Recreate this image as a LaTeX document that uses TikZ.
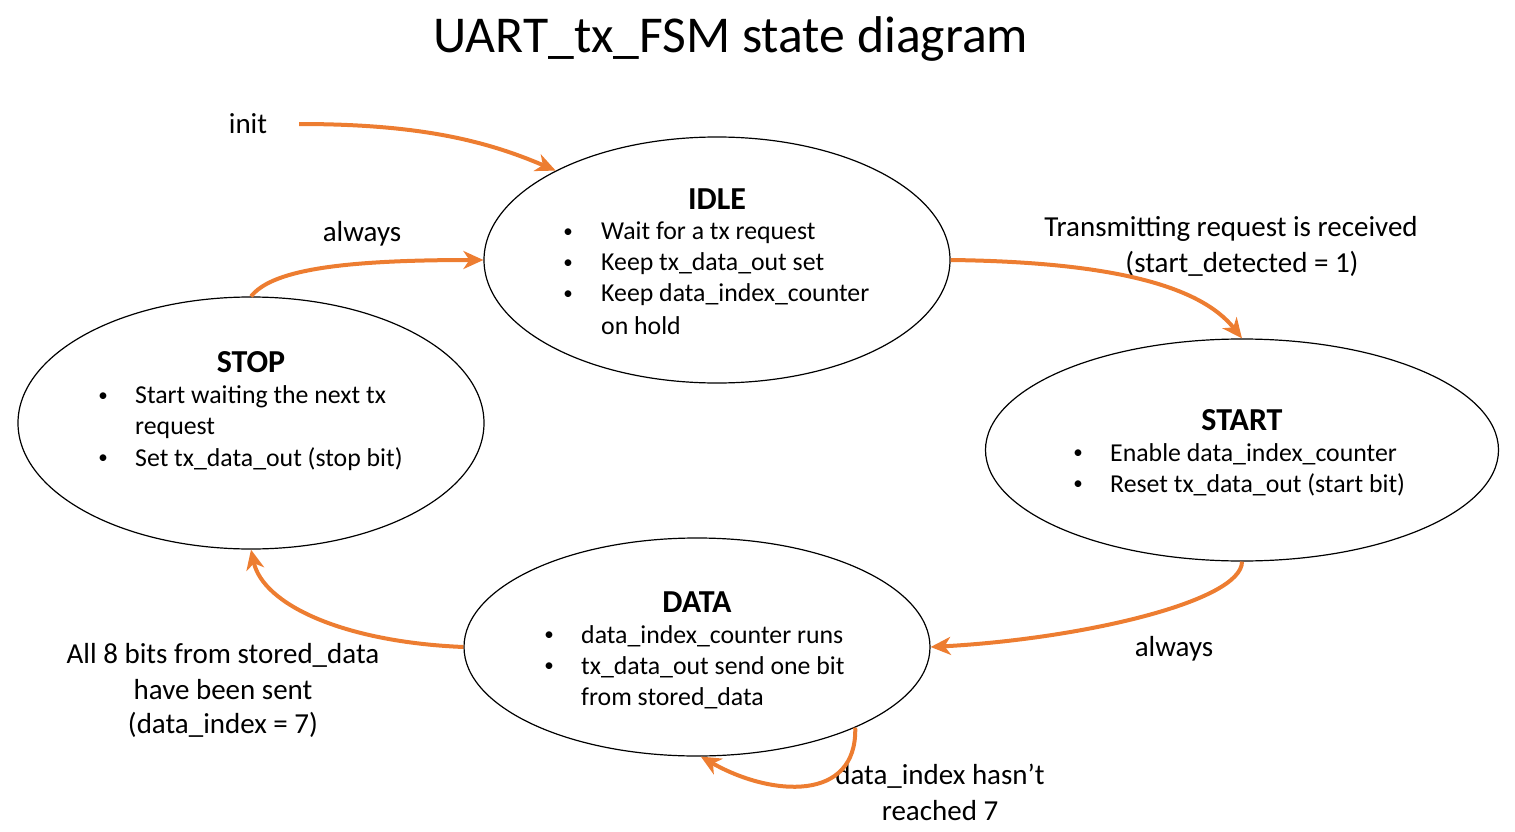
\documentclass[tikz,border=0pt]{standalone}
\usepackage{fontspec}
\setmainfont{Carlito}
\usetikzlibrary{shapes.geometric,arrows.meta}
\definecolor{arrorange}{HTML}{ED7D31}
\tikzset{
  state/.style={ellipse, draw=black, line width=1.2pt, inner sep=0pt},
  body/.style={anchor=west, inner sep=0pt, font=\fontsize{25.8}{31}\selectfont},
  lbl/.style={inner sep=0pt, font=\fontsize{29}{33}\selectfont},
  bul/.style={inner sep=0pt, font=\fontsize{19}{31}\selectfont},
  head/.style={inner sep=0pt, font=\fontsize{32}{36}\selectfont\bfseries},
  trans/.style={draw=arrorange, line width=4pt, -{Stealth[length=20pt,width=18pt,inset=6pt]}},
}
\begin{document}
\begin{tikzpicture}[x=1pt,y=-1pt]
\useasboundingbox (0,0) rectangle (1515,832);
\node[inner sep=0pt, font=\fontsize{51.7}{56}\selectfont] (title) at (731,39) {UART\_tx\_FSM state diagram};
% states
\node[state, minimum width=466pt, minimum height=246pt] (idle) at (717,260) {};
\node[state, minimum width=466pt, minimum height=252pt] (stop) at (251,423) {};
\node[state, minimum width=513pt, minimum height=222pt] (start) at (1242,450) {};
\node[state, minimum width=466pt, minimum height=218pt] (data) at (697,647) {};
% IDLE text
\node[head] (idleh) at (717,199) {IDLE};
\node[bul] (ib1) at (568,233) {•};
\node[bul] (ib2) at (568,264) {•};
\node[bul] (ib3) at (568,295) {•};
\node[body] (it1) at (601,233) {Wait for a tx request};
\node[body] (it2) at (601,264) {Keep tx\_data\_out set};
\node[body] (it3) at (601,295) {Keep data\_index\_counter};
\node[body] (it4) at (601,326) {on hold};
% STOP text
\node[head] (stoph) at (251,362) {STOP};
\node[bul] (sb1) at (103,397) {•};
\node[bul] (sb2) at (103,459) {•};
\node[body] (st1) at (135,397) {Start waiting the next tx};
\node[body] (st2) at (135,428) {request};
\node[body] (st3) at (135,459) {Set tx\_data\_out (stop bit)};
% START text
\node[head] (starth) at (1242,420) {START};
\node[bul] (ab1) at (1078,454) {•};
\node[bul] (ab2) at (1078,485) {•};
\node[body] (at1) at (1110,454) {Enable data\_index\_counter};
\node[body] (at2) at (1110,485) {Reset tx\_data\_out (start bit)};
% DATA text
\node[head] (datah) at (697,602) {DATA};
\node[bul] (db1) at (549,636) {•};
\node[bul] (db2) at (549,667) {•};
\node[body] (dt1) at (581,636) {data\_index\_counter runs};
\node[body] (dt2) at (581,667) {tx\_data\_out send one bit};
\node[body] (dt3) at (581,698) {from stored\_data};
% labels
\node[lbl] (linit) at (248,124) {init};
\node[lbl] (lalw1) at (362,234) {always};
\node[lbl] (ltr1) at (1231,229) {Transmitting request is received};
\node[lbl] (ltr2) at (1242,264) {(start\_detected = 1)};
\node[lbl] (lalw2) at (1174,649) {always};
\node[lbl] (lall1) at (223,655) {All 8 bits from stored\_data};
\node[lbl] (lall2) at (223,690) {have been sent};
\node[lbl] (lall3) at (223,725) {(data\_index = 7)};
\node[lbl] (lhas1) at (940,776) {data\_index hasn’t};
\node[lbl] (lhas2) at (940,811) {reached 7};
% transitions
\coordinate (initpt) at (299,124);
\draw[trans] (initpt) .. controls +(120,0) and +(-70,-30) .. (idle.151);
\draw[trans] (stop.north) .. controls +(20,-25) and +(-150,0) .. (idle.west);
\draw[trans] (idle.east) .. controls +(160,2) and +(-42,-53) .. (start.north);
\draw[trans] (start.south) .. controls +(0,40) and +(150,-8) .. (data.east);
\draw[trans] (data.west) .. controls +(-120,-5) and +(12,55) .. (stop.south);
\draw[trans] (data.333) .. controls +(2,75) and +(70,40) .. (data.272);
\end{tikzpicture}
\end{document}
